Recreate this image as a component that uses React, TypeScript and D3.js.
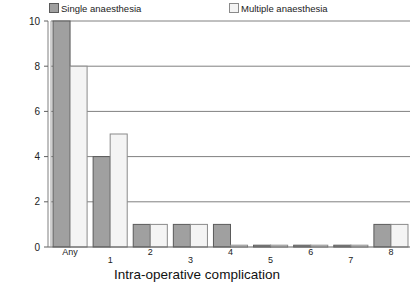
import React from "react";
import * as d3 from "d3";

const categories = ["Any", "1", "2", "3", "4", "5", "6", "7", "8"];
const singleValues = [10, 4, 1, 1, 1, 0.08, 0.08, 0.08, 1];
const multipleValues = [8, 5, 1, 1, 0.08, 0.08, 0.08, 0.08, 1];
const seriesNames = ["Single anaesthesia", "Multiple anaesthesia"];
const yTicks = [0, 2, 4, 6, 8, 10];
const xTitle = "Intra-operative complication";

const W = 413, H = 284;
const left = 51, right = 410, top = 21, bottom = 247;
const colors = ["#a0a0a0", "#f4f4f4"];
const strokes = ["#5a5a5a", "#8a8a8a"];

export default function App() {
  const x = d3.scaleBand<string>().domain(categories).range([left, right]).paddingInner(0.15).paddingOuter(0.05);
  const inner = d3.scaleBand<number>().domain([0, 1]).range([0, x.bandwidth()]);
  const y = d3.scaleLinear().domain([0, 10]).range([bottom, top]);
  const series = [singleValues, multipleValues];
  const font = "'Liberation Sans', Arial, sans-serif";
  return (
    <svg width={W} height={H} style={{ position: "absolute", left: 0, top: 0, background: "#fff" }} fontFamily={font}>
      {yTicks.filter(t => t > 0).map(t => (
        <line key={"g" + t} x1={left} x2={right} y1={y(t)} y2={y(t)} stroke="#808080" strokeWidth={1} />
      ))}
      {series.map((vals, si) =>
        vals.map((v, i) => (
          <rect key={si + "-" + i} x={x(categories[i])! + inner(si)!} y={y(v)} width={inner.bandwidth()} height={y(0) - y(v)}
            fill={colors[si]} stroke={strokes[si]} strokeWidth={1} />
        ))
      )}
      <line x1={left - 3} x2={right} y1={y(0)} y2={y(0)} stroke="#606060" strokeWidth={1} />
      <line x1={left - 3} x2={left - 3} y1={top} y2={bottom} stroke="#808080" strokeWidth={1} />
      <line x1={left} x2={left} y1={top} y2={bottom} stroke="#a0a0a0" strokeWidth={1} />
      {yTicks.map(t => (
        <g key={"t" + t}>
          <line x1={left - 7} x2={left - 3} y1={y(t)} y2={y(t)} stroke="#606060" />
          <text x={40} y={y(t) + 3.5} textAnchor="end" fontSize={10} fill="#222">{t}</text>
        </g>
      ))}
      {categories.map((c, i) => (
        <text key={"c" + c} x={x(c)! + x.bandwidth() / 2} y={i % 2 === 0 ? 254.5 : 263} textAnchor="middle" fontSize={9} fill="#222">{c}</text>
      ))}
      <text x={197} y={278.5} textAnchor="middle" fontSize={13.5} fill="#111">{xTitle}</text>
      {seriesNames.map((n, i) => (
        <g key={n} transform={`translate(${i === 0 ? 49 : 229},3)`}>
          <rect x={0.5} y={0.5} width={9} height={9} fill={colors[i]} stroke={strokes[i]} />
          <text x={12} y={8.5} fontSize={9.5} fill="#222">{n}</text>
        </g>
      ))}
    </svg>
  );
}
